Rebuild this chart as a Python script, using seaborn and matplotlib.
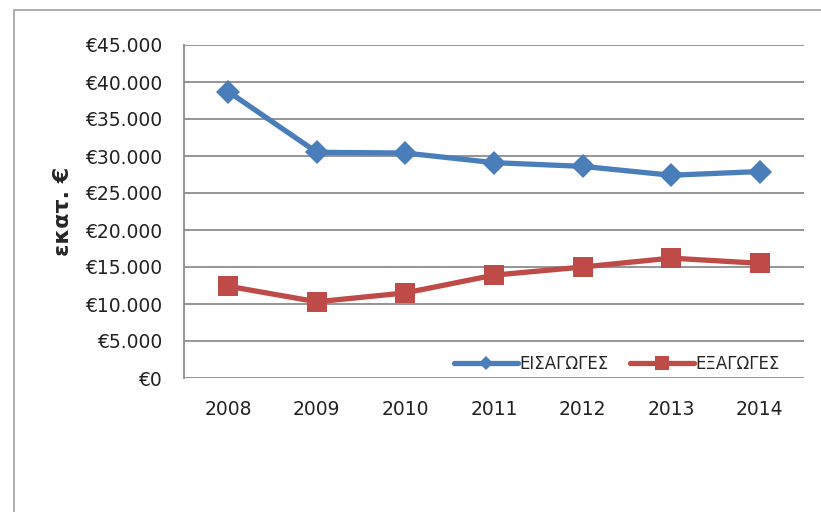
import matplotlib
matplotlib.use("Agg")
import matplotlib.pyplot as plt
import matplotlib.ticker as mticker
from matplotlib.patches import Rectangle
import seaborn as sns
import pandas as pd

years = [2008, 2009, 2010, 2011, 2012, 2013, 2014]
imports = [38700, 30500, 30400, 29100, 28600, 27400, 27900]
exports = [12400, 10300, 11500, 13900, 15000, 16200, 15500]
series_names = ["ΕΙΣΑΓΩΓΕΣ", "ΕΞΑΓΩΓΕΣ"]
y_label = "εκατ. €"

sns.set_style("white")
plt.rcParams['font.family'] = ['Liberation Sans Narrow', 'DejaVu Sans']

df = pd.DataFrame({
    "year": years * 2,
    "value": imports + exports,
    "series": [series_names[0]] * len(years) + [series_names[1]] * len(years),
})

fig = plt.figure(figsize=(8.21, 5.12), dpi=100)
fig.patches.append(Rectangle((14/821, -0.1), 1.2, 1 - 10/512 + 0.1, transform=fig.transFigure,
                             fill=False, edgecolor="#A0A0A0", linewidth=1.2))
ax = fig.add_axes([184/821, 1 - 378/512, 620/821, 333/512])

palette = {series_names[0]: "#4A7EBB", series_names[1]: "#BE4B48"}
markers = {series_names[0]: "D", series_names[1]: "s"}
sizes = {series_names[0]: 12, series_names[1]: 15}
for name in series_names:
    sub = df[df["series"] == name]
    sns.lineplot(data=sub, x="year", y="value", ax=ax, color=palette[name],
                 marker=markers[name], markersize=sizes[name], linewidth=3.8,
                 markeredgewidth=0, label=name)

ax.set_xlim(2007.5, 2014.5)
ax.set_ylim(0, 45000)
ax.set_xticks(years)
ax.set_xticklabels([str(y) for y in years])
ax.yaxis.set_major_locator(mticker.MultipleLocator(5000))
ax.yaxis.set_major_formatter(mticker.FuncFormatter(
    lambda v, p: "€" + f"{int(v):,}".replace(",", ".")))
ax.grid(axis="y", color="#8C8C8C", linewidth=1.3)
ax.set_axisbelow(True)
for s in ["top", "right", "bottom"]:
    ax.spines[s].set_visible(False)
ax.spines["left"].set_color("#8C8C8C")
ax.spines["left"].set_linewidth(1.3)
ax.tick_params(axis="both", length=0, labelsize=13.5, colors="#222222")
ax.tick_params(axis="x", pad=16)
ax.tick_params(axis="y", pad=16)
ax.set_xlabel("")
ax.set_ylabel(y_label, fontsize=16, fontweight="bold", family=['DejaVu Sans'], labelpad=8)

leg = ax.legend(loc="lower right", bbox_to_anchor=(0.985, -0.03), ncol=2, frameon=False,
                fontsize=12, handlelength=3.8, columnspacing=1.3, handletextpad=0.1)
for h, name in zip(leg.legend_handles, series_names):
    h.set_markersize(7 if name == series_names[0] else 10)

fig.savefig("out.png", dpi=100)
